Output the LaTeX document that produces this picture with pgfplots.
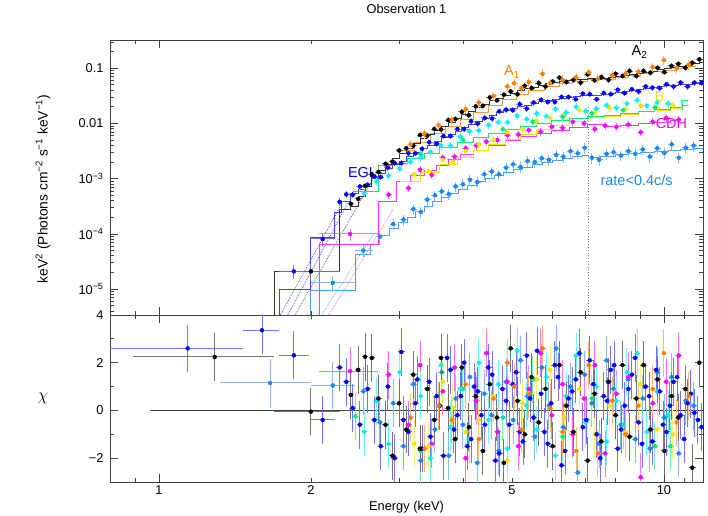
\documentclass[border=0pt]{standalone}
\usepackage{fontspec}
\setmainfont{Liberation Sans}
\usepackage{pgfplots}
\pgfplotsset{compat=1.18}

\definecolor{xorange}{RGB}{255,128,0}
\definecolor{xcyan}{RGB}{0,240,255}
\definecolor{xyellow}{RGB}{240,230,0}
\definecolor{xgreen}{RGB}{0,235,120}
\definecolor{xmag}{RGB}{255,0,255}
\definecolor{xdodger}{RGB}{25,135,245}
\definecolor{xblue}{RGB}{0,0,255}
\newcommand{\ff}{\fontsize{12.8}{15}\selectfont}
\newcommand{\fl}{\fontsize{14.5}{17}\selectfont}

\pgfplotsset{
  xspec/.style={scale only axis, width=593pt,
    tick align=inside, xtick pos=both, ytick pos=both,
    xticklabel pos=lower, yticklabel pos=left,
    major tick length=8pt, minor tick length=4pt,
    axis line style={line width=0.9pt, black!75},
    every tick/.append style={black!75, line width=0.8pt},
    every tick label/.append style={font=\ff}, title style={font=\ff},
    xtick={1,10}, minor xtick={0.8,0.9,3,4,6,7,8,9,11},
    extra x ticks={2,5}, extra x tick style={major tick length=4pt},
    yticklabel style={xshift=-3pt}},
  dat/.style={only marks, mark=*, mark size=2pt, color=#1,
    mark options={draw=#1, fill=#1},
    error bars/x dir=both, error bars/y dir=both, error bars/error mark=none,
    error bars/error bar style={draw=#1!55, line width=1pt}},
  topd/.style={dat=#1, error bars/y fixed relative=0.16, error bars/x fixed relative=0.016},
  resd/.style={dat=#1, error bars/y fixed=1, error bars/x fixed relative=0.015},
  datx/.style={dat=#1, error bars/x explicit, error bars/y explicit},
  modl/.style={const plot mark left, no marks, color=#1, line width=1pt},
  comp/.style={densely dotted, no marks, color=#1, line width=0.8pt},
}

\begin{document}
\begin{tikzpicture}
\useasboundingbox (0pt,0pt) rectangle (708pt,515pt);

% ---------------- spectrum ----------------
\begin{axis}[xspec, xmode=log, xmin=0.8, xmax=11.95,
  at={(110pt,200pt)}, anchor=south west, height=275pt,
  ymode=log, ymin=3.4e-6, ymax=0.325,
  xticklabels={}, extra x tick labels={},
  ytick={1e-5,1e-4,1e-3,1e-2,1e-1},
  yticklabels={10\textsuperscript{−5},10\textsuperscript{−4},10\textsuperscript{−3},0.01,0.1},
  minor ytick={4e-6,5e-6,6e-6,7e-6,8e-6,9e-6,2e-5,3e-5,4e-5,5e-5,6e-5,7e-5,8e-5,9e-5,
    2e-4,3e-4,4e-4,5e-4,6e-4,7e-4,8e-4,9e-4,2e-3,3e-3,4e-3,5e-3,6e-3,7e-3,8e-3,9e-3,
    0.02,0.03,0.04,0.05,0.06,0.07,0.08,0.09,0.2,0.3},
  title={Observation 1}, title style={at={(0.5,1)}, anchor=center, yshift=25pt},
  ylabel={keV\textsuperscript{2} (Photons cm\textsuperscript{−2} s\textsuperscript{−1} keV\textsuperscript{−1})},
  every axis y label/.style={at={(rel axis cs:-0.113,0.458)}, rotate=90, anchor=center,
    font=\fontsize{13.8}{16}\selectfont},
]
% model components
\addplot[comp=xblue!70] coordinates {(1.74,3.4e-6) (2.30,3.5e-4)};
\addplot[comp=xblue!70] coordinates {(1.80,3.4e-6) (2.36,3.5e-4)};
\addplot[comp=black!60] coordinates {(1.86,3.4e-6) (2.70,1.3e-3)};
\addplot[comp=xdodger!60] coordinates {(2.10,3.4e-6) (2.66,1.0e-4)};
\addplot[comp=xmag!60] coordinates {(2.17,3.4e-6) (2.91,2.8e-4)};
\addplot[dotted, gray, line width=0.8pt] coordinates {(7.1,3.4e-6) (7.1,2.0e-2)};

% models
\addplot[modl=xdodger!80] coordinates {(2.0,3e-6)(2.0,9.5e-6)(2.45,4.2e-5)(2.62,6.5e-5)(2.74,9.5e-5)(2.86,1.25e-4)(2.98,1.6e-4)(3.10,2.0e-4)(3.22,2.5e-4)(3.35,3.1e-4)(3.48,3.8e-4)(3.62,4.6e-4)(3.77,5.5e-4)(3.92,6.5e-4)(4.08,7.6e-4)(4.25,8.8e-4)(4.43,1.0e-3)(4.62,1.15e-3)(4.82,1.3e-3)(5.03,1.45e-3)(5.25,1.6e-3)(5.5,1.78e-3)(5.75,1.95e-3)(6.02,2.12e-3)(6.3,2.3e-3)(6.6,2.48e-3)(6.9,2.62e-3)(7.1,2.45e-3)(7.5,2.55e-3)(8.0,2.7e-3)(8.5,2.85e-3)(9.0,3.0e-3)(9.6,3.15e-3)(10.2,3.3e-3)(10.8,3.45e-3)(11.5,3.55e-3)(11.95,3.55e-3)};
\addplot[modl=xmag!80] coordinates {(2.08,3e-6)(2.08,6.5e-5)(2.72,3.9e-4)(2.95,8.9e-4)(3.15,1.15e-3)(3.35,1.4e-3)(3.55,1.75e-3)(3.75,2.2e-3)(3.95,2.7e-3)(4.2,3.3e-3)(4.5,4.0e-3)(4.85,4.9e-3)(5.2,5.7e-3)(5.6,6.6e-3)(6.0,7.5e-3)(6.5,8.5e-3)(7.06,9.5e-3)(7.6,8.7e-3)(8.2,9.3e-3)(8.9,9.9e-3)(9.6,1.06e-2)(10.3,1.12e-2)(10.8,1.12e-2)};
\addplot[modl=xyellow] coordinates {(3.0,9.0e-4)(3.3,1.3e-3)(3.6,1.8e-3)(3.9,2.4e-3)(4.2,3.2e-3)(4.5,4.1e-3)(4.85,5.2e-3)(5.2,6.4e-3)(5.6,7.8e-3)(6.0,9.3e-3)(6.5,1.1e-2)(7.06,1.28e-2)(7.6,1.35e-2)(8.2,1.48e-2)(8.9,1.62e-2)(9.6,1.75e-2)(10.3,1.88e-2)(10.8,1.88e-2)};
\addplot[modl=xgreen] coordinates {(2.42,5.9e-4)(2.72,1.7e-3)(2.90,1.9e-3)(3.10,2.3e-3)(3.35,2.9e-3)(3.60,3.6e-3)(3.90,4.5e-3)(4.20,5.5e-3)(4.50,6.6e-3)(4.85,7.8e-3)(5.2,9.0e-3)(5.6,1.02e-2)(6.0,1.12e-2)(6.5,1.23e-2)(7.06,1.32e-2)(7.6,1.38e-2)(8.2,1.5e-2)(8.9,1.63e-2)(9.6,1.78e-2)(10.3,1.98e-2)(10.8,1.98e-2)};
\addplot[modl=xorange!80] coordinates {(3.00,3.2e-3)(3.20,4.6e-3)(3.45,6.5e-3)(3.70,9.0e-3)(3.95,1.2e-2)(4.20,1.6e-2)(4.50,2.1e-2)(4.80,2.7e-2)(5.10,3.3e-2)(5.40,3.9e-2)(5.80,4.6e-2)(6.20,5.2e-2)(6.60,5.7e-2)(7.06,6.2e-2)(7.50,6.3e-2)(8.00,6.9e-2)(8.50,7.5e-2)(9.00,8.1e-2)(9.50,8.7e-2)(10.0,9.3e-2)(10.6,0.10)(11.2,0.107)(11.6,0.107)};
\addplot[modl=xblue!75] coordinates {(1.73,3e-6)(1.73,1.0e-5)(2.0,8.5e-5)(2.23,2.4e-4)(2.30,3.8e-4)(2.40,5.5e-4)(2.48,6.46e-4)(2.56,7.94e-4)(2.64,1.0e-3)(2.72,1.23e-3)(2.81,1.51e-3)(2.90,1.78e-3)(2.99,2.09e-3)(3.09,2.51e-3)(3.19,3.02e-3)(3.29,3.47e-3)(3.40,4.07e-3)(3.51,4.79e-3)(3.62,5.50e-3)(3.74,6.31e-3)(3.86,7.24e-3)(3.98,8.32e-3)(4.11,9.55e-3)(4.24,1.10e-2)(4.38,1.23e-2)(4.52,1.38e-2)(4.67,1.55e-2)(4.82,1.70e-2)(4.97,1.86e-2)(5.13,2.00e-2)(5.30,2.14e-2)(5.47,2.29e-2)(5.65,2.45e-2)(5.83,2.57e-2)(6.02,2.69e-2)(6.21,2.82e-2)(6.41,2.95e-2)(6.62,3.09e-2)(6.84,3.16e-2)(7.06,3.24e-2)(7.29,3.16e-2)(7.52,3.31e-2)(7.77,3.47e-2)(8.02,3.63e-2)(8.28,3.80e-2)(8.55,3.98e-2)(8.82,4.17e-2)(9.11,4.27e-2)(9.40,4.47e-2)(9.71,4.68e-2)(10.02,4.79e-2)(10.35,4.90e-2)(10.68,5.01e-2)(11.03,5.13e-2)(11.38,5.25e-2)(11.75,5.37e-2)(11.95,5.37e-2)};
\addplot[modl=black!80] coordinates {(1.69,3e-6)(1.69,2.1e-5)(2.28,2.75e-4)(2.40,3.16e-4)(2.48,4.79e-4)(2.56,7.08e-4)(2.64,1.05e-3)(2.72,1.41e-3)(2.81,1.82e-3)(2.90,2.34e-3)(2.99,2.88e-3)(3.09,3.55e-3)(3.19,4.37e-3)(3.29,5.25e-3)(3.40,6.31e-3)(3.51,7.41e-3)(3.62,8.91e-3)(3.74,1.05e-2)(3.86,1.23e-2)(3.98,1.45e-2)(4.11,1.66e-2)(4.24,1.95e-2)(4.38,2.24e-2)(4.52,2.57e-2)(4.67,2.88e-2)(4.82,3.24e-2)(4.97,3.55e-2)(5.13,3.89e-2)(5.30,4.27e-2)(5.47,4.57e-2)(5.65,4.90e-2)(5.83,5.25e-2)(6.02,5.50e-2)(6.21,5.75e-2)(6.41,6.03e-2)(6.62,6.17e-2)(6.84,6.31e-2)(7.06,6.46e-2)(7.29,6.31e-2)(7.52,6.46e-2)(7.77,6.76e-2)(8.02,7.08e-2)(8.28,7.41e-2)(8.55,7.76e-2)(8.82,8.13e-2)(9.11,8.51e-2)(9.40,8.91e-2)(9.71,9.33e-2)(10.02,9.77e-2)(10.35,0.102)(10.68,0.107)(11.03,0.112)(11.38,0.120)(11.75,0.126)(11.95,0.126)};

% data
\addplot[datx=xdodger] coordinates {(2.21,1.3e-5) += (0.24,0.4e-5) -= (0.21,0.4e-5) (2.54,5.0e-5) += (0.12,1.2e-5) -= (0.09,1.2e-5)};
\addplot[topd=xdodger, error bars/y fixed relative=0.22] coordinates {(2.74,8.91e-5)(2.91,1.51e-4)(3.05,1.82e-4)(3.19,2.82e-4)(3.30,2.51e-4)(3.40,4.17e-4)(3.52,5.01e-4)(3.63,5.89e-4)(3.75,5.25e-4)(3.87,7.24e-4)(4.00,7.94e-4)(4.13,9.55e-4)(4.27,8.71e-4)(4.41,1.20e-3)(4.56,1.35e-3)(4.71,1.20e-3)(4.87,1.58e-3)(5.03,1.82e-3)(5.20,1.62e-3)(5.37,2.09e-3)(5.55,2.00e-3)(5.73,2.34e-3)(5.92,2.19e-3)(6.12,2.69e-3)(6.32,2.51e-3)(6.53,3.16e-3)(6.75,2.88e-3)(6.97,3.63e-3)(7.20,2.40e-3)(7.44,2.19e-3)(7.70,2.82e-3)(7.95,3.02e-3)(8.22,2.63e-3)(8.50,3.16e-3)(8.78,2.82e-3)(9.08,3.39e-3)(9.38,2.51e-3)(9.70,3.55e-3)(10.02,2.95e-3)(10.36,4.17e-3)(10.70,2.40e-3)(11.05,3.63e-3)(11.45,3.98e-3)};
\addplot[datx=xmag] coordinates {(2.39,1.0e-4) += (0.33,0.25e-4) -= (0.32,0.25e-4)};
\addplot[topd=xmag] coordinates {(2.85,5.13e-4)(3.12,6.76e-4)(3.29,1.45e-3)(3.47,1.17e-3)(3.65,2.40e-3)(3.85,2.51e-3)(4.05,3.55e-3)(4.25,3.98e-3)(4.45,4.68e-3)(4.68,5.01e-3)(4.90,6.17e-3)(5.15,6.31e-3)(5.40,7.59e-3)(5.70,7.08e-3)(6.00,8.71e-3)(6.30,8.32e-3)(6.60,1.07e-2)(6.95,1.00e-2)(7.30,7.94e-3)(7.65,9.12e-3)(8.05,8.71e-3)(8.50,9.55e-3)(9.00,6.92e-3)(9.50,1.07e-2)(10.1,1.26e-2)(10.7,1.17e-2)};
\addplot[topd=xyellow] coordinates {(3.20,1.20e-3)(3.42,1.38e-3)(3.65,2.19e-3)(3.82,2.00e-3)(4.05,3.16e-3)(4.30,4.17e-3)(4.60,5.01e-3)(4.90,6.92e-3)(5.25,7.94e-3)(5.60,1.10e-2)(5.95,1.26e-2)(6.35,1.45e-2)(6.80,1.74e-2)(7.30,1.58e-2)(7.80,1.91e-2)(8.40,1.82e-2)(9.00,2.09e-2)(9.70,1.95e-2)(10.4,2.14e-2)};
\addplot[topd=xgreen] coordinates {(3.3,2.8e-3)(4.0,5.0e-3)(4.8,7.9e-3)(5.5,1.07e-2)(6.3,1.32e-2)(7.2,1.51e-2)(8.3,1.74e-2)(9.6,1.95e-2)};
\addplot[topd=xcyan] coordinates {(2.55,5.50e-4)(2.70,8.91e-4)(2.85,1.12e-3)(3.00,1.51e-3)(3.15,2.00e-3)(3.30,2.40e-3)(3.45,3.02e-3)(3.62,3.98e-3)(3.78,3.98e-3)(3.95,5.75e-3)(4.12,7.24e-3)(4.30,7.41e-3)(4.50,9.33e-3)(4.70,1.05e-2)(4.90,1.05e-2)(5.12,1.38e-2)(5.35,1.20e-2)(5.60,1.51e-2)(5.85,1.35e-2)(6.10,1.82e-2)(6.40,1.58e-2)(6.70,2.00e-2)(7.00,1.66e-2)(7.35,1.86e-2)(7.70,2.14e-2)(8.05,1.91e-2)(8.45,2.29e-2)(8.85,2.63e-2)(9.25,2.09e-2)(9.70,2.40e-2)(10.2,2.29e-2)};
\addplot[datx=xblue] coordinates {(1.85,2.1e-5) += (0.15,0.6e-5) -= (0.12,0.6e-5) (2.11,8.1e-5) += (0.12,2e-5) -= (0.11,2e-5) (2.28,3.8e-4) += (0.03,0.6e-4) -= (0.03,0.6e-4) (2.35,5.2e-4) += (0.03,0.8e-4) -= (0.03,0.8e-4)};
\addplot[topd=xblue, error bars/y fixed relative=0.12] coordinates {(2.42,5.13e-4)(2.50,7.24e-4)(2.59,7.76e-4)(2.67,1.10e-3)(2.75,1.07e-3)(2.84,1.58e-3)(2.93,1.91e-3)(3.02,1.91e-3)(3.12,2.88e-3)(3.22,2.88e-3)(3.32,3.47e-3)(3.43,4.57e-3)(3.55,4.27e-3)(3.66,5.89e-3)(3.78,5.89e-3)(3.90,7.94e-3)(4.02,7.94e-3)(4.15,1.10e-2)(4.28,1.00e-2)(4.42,1.26e-2)(4.57,1.23e-2)(4.72,1.66e-2)(4.87,1.78e-2)(5.02,1.74e-2)(5.18,2.24e-2)(5.35,1.86e-2)(5.52,2.40e-2)(5.71,2.69e-2)(5.89,2.45e-2)(6.08,2.45e-2)(6.27,3.02e-2)(6.47,3.02e-2)(6.69,2.75e-2)(6.91,3.47e-2)(7.13,3.39e-2)(7.36,2.75e-2)(7.60,3.55e-2)(7.85,3.39e-2)(8.10,4.07e-2)(8.36,3.55e-2)(8.64,4.17e-2)(8.91,3.80e-2)(9.20,4.68e-2)(9.49,4.47e-2)(9.81,4.37e-2)(10.12,5.13e-2)(10.45,4.68e-2)(10.79,5.50e-2)(11.14,4.68e-2)(11.49,5.50e-2)(11.87,5.50e-2)};
\addplot[datx=black] coordinates {(2.0,2.1e-5) += (0.28,0.7e-5) -= (0.27,0.7e-5)};
\addplot[topd=black, error bars/y fixed relative=0.12] coordinates {(2.40,3.5e-4)(2.48,4.3e-4)(2.56,7.4e-4)(2.64,1.20e-3)(2.72,1.32e-3)(2.81,1.86e-3)(2.90,2.04e-3)(2.99,3.24e-3)(3.09,3.55e-3)(3.19,3.98e-3)(3.29,6.17e-3)(3.40,6.03e-3)(3.51,7.94e-3)(3.62,7.8e-3)(3.74,1.15e-2)(3.86,1.20e-2)(3.98,1.62e-2)(4.11,1.41e-2)(4.24,2.04e-2)(4.38,2.09e-2)(4.52,2.95e-2)(4.67,2.63e-2)(4.82,3.31e-2)(4.97,3.80e-2)(5.13,3.39e-2)(5.30,4.79e-2)(5.47,4.37e-2)(5.65,5.37e-2)(5.83,4.68e-2)(6.02,5.75e-2)(6.21,6.76e-2)(6.41,5.62e-2)(6.62,6.17e-2)(6.84,5.50e-2)(7.06,7.76e-2)(7.29,6.03e-2)(7.52,6.92e-2)(7.77,6.17e-2)(8.02,7.94e-2)(8.28,7.24e-2)(8.55,8.91e-2)(8.82,7.24e-2)(9.11,8.91e-2)(9.40,8.32e-2)(9.71,0.102)(10.02,8.51e-2)(10.35,0.110)(10.68,0.120)(11.03,0.102)(11.38,0.126)(11.75,0.145)};
\addplot[topd=xorange, error bars/y fixed relative=0.2] coordinates {(3.15,4.17e-3)(3.36,6.61e-3)(3.58,9.33e-3)(3.80,1.17e-2)(4.05,1.82e-2)(4.30,2.40e-2)(4.60,3.16e-2)(4.90,4.68e-2)(5.05,5.37e-2)(5.22,4.37e-2)(5.40,5.62e-2)(5.75,7.94e-2)(5.95,5.37e-2)(6.30,6.17e-2)(6.70,6.92e-2)(7.10,8.51e-2)(7.40,6.46e-2)(7.90,7.41e-2)(8.40,7.94e-2)(8.90,8.71e-2)(9.50,0.105)(10.0,0.141)(10.6,0.100)(11.2,0.117)};

% labels
\node[font=\fl, black] at (axis cs:8.95,0.197) {A\textsubscript{2}};
\node[font=\fl, xorange] at (axis cs:5.0,0.0858) {A\textsubscript{1}};
\node[font=\fl, xyellow] at (axis cs:9.8,0.0303) {B};
\node[font=\fl, xgreen] at (axis cs:11.0,0.0208) {F};
\node[font=\fl, xmag] at (axis cs:10.35,0.0102) {CDH};
\node[font=\fl, xblue] at (axis cs:2.53,1.28e-3) {EGL};
\node[font=\fl, xdodger] at (axis cs:8.83,9.5e-4) {rate<0.4c/s};
\end{axis}

% ---------------- residuals ----------------
\begin{axis}[xspec, xmode=log, xmin=0.8, xmax=11.95,
  at={(110pt,33pt)}, anchor=south west, height=167pt,
  ymin=-3, ymax=4, ytick={-2,0,2,4}, yticklabels={−2,0,2,4},
  minor ytick={-3,-1,1,3},
  xticklabels={1,10}, extra x tick labels={2,5},
  xlabel={Energy (keV)},
  every axis x label/.style={at={(rel axis cs:0.5,0)}, anchor=center, yshift=-25pt, font=\ff},
  ylabel={$\chi$},
  every axis y label/.style={at={(rel axis cs:-0.113,0.5)}, anchor=center,
    font=\fontsize{17}{19}\selectfont},
]
\addplot[black!75, line width=1pt] coordinates {(0.96,0) (11.95,0)};
\addplot[datx=xdodger] coordinates {(1.66,1.15) += (0.34,1) -= (0.34,1) (2.21,1.05) += (0.24,1) -= (0.21,1)};
\addplot[resd=xdodger] coordinates {(2.54,0.8)(2.74,-0.5)(2.91,0.3)(3.05,-1.5)(3.19,1.1)(3.30,-2.1)(3.40,0.9)(3.52,-0.8)(3.63,1.6)(3.75,-1.9)(3.87,0.5)(4.00,-0.6)(4.13,1.4)(4.27,-2.2)(4.41,0.7)(4.56,-0.2)(4.71,-1.7)(4.87,1.2)(5.03,-0.4)(5.20,2.1)(5.37,0.6)(5.55,-1.1)(5.73,1.8)(5.92,0.2)(6.12,2.6)(6.32,-0.7)(6.53,1.0)(6.75,-2.6)(6.97,1.5)(7.20,0.3)(7.44,-1.4)(7.70,2.1)(7.95,0.9)(8.22,-0.6)(8.50,1.3)(8.78,-1.2)(9.08,0.5)(9.38,-1.6)(9.70,1.6)(10.02,-0.3)(10.36,1.4)(10.70,-1.8)(11.05,0.4)(11.45,0.2)};
\addplot[datx=xmag] coordinates {(2.39,1.65) += (0.33,1) -= (0.32,1)};
\addplot[resd=xmag] coordinates {(2.85,1.5)(3.12,-0.6)(3.29,1.9)(3.47,-1.4)(3.65,0.8)(3.85,1.8)(4.05,-2.0)(4.25,0.4)(4.45,2.4)(4.68,-0.9)(4.90,1.2)(5.15,-1.5)(5.40,0.9)(5.70,2.4)(6.00,-0.2)(6.30,1.1)(6.60,-1.0)(6.95,0.5)(7.30,1.9)(7.65,-1.8)(8.05,0.7)(8.50,1.4)(9.00,-2.8)(9.50,0.3)(10.1,1.2)(10.7,2.3)};
\addplot[resd=xyellow] coordinates {(3.20,-1.4)(3.42,-1.5)(3.65,1.2)(3.82,0.1)(4.05,-0.9)(4.30,-0.4)(4.60,0.6)(4.90,-2.1)(5.25,0.3)(5.60,1.3)(5.95,1.7)(6.35,-0.3)(6.80,0.9)(7.30,-1.0)(7.80,0.2)(8.40,-0.9)(9.00,1.1)(9.70,-0.8)(10.4,-1.0)};
\addplot[resd=xgreen] coordinates {(2.45,-0.25)(3.3,-1.7)(4.0,0.9)(4.8,-0.3)(5.5,1.3)(6.3,-1.1)(7.2,0.5)(8.3,-0.6)(9.6,-1.5)(10.3,-1.5)};
\addplot[resd=xcyan] coordinates {(2.55,-0.9)(2.70,0.4)(2.85,-1.4)(3.00,1.6)(3.15,-0.3)(3.30,0.6)(3.45,-2.0)(3.62,1.9)(3.78,-0.7)(3.95,0.9)(4.12,-1.2)(4.30,2.0)(4.50,-0.4)(4.70,1.1)(4.90,-1.6)(5.12,2.5)(5.35,0.2)(5.60,-0.8)(5.85,1.4)(6.10,-1.9)(6.40,0.6)(6.70,2.3)(7.00,-0.5)(7.35,1.0)(7.70,-1.3)(8.05,0.4)(8.45,1.6)(8.85,2.4)(9.25,-0.9)(9.70,0.8)(10.2,-0.2)};
\addplot[datx=xblue] coordinates {(1.14,2.6) += (0.33,1) -= (0.34,1) (1.6,3.36) += (0.13,1) -= (0.13,1) (1.85,2.31) += (0.13,1) -= (0.12,1) (2.11,-0.4) += (0.12,1) -= (0.11,1)};
\addplot[resd=xblue] coordinates {(2.28,1.8)(2.35,1.2)(2.42,0.1)(2.50,-0.6)(2.59,0.9)(2.67,-0.4)(2.75,-1.5)(2.84,1.0)(2.93,-2.0)(3.02,2.45)(3.12,-0.9)(3.22,0.3)(3.32,-1.6)(3.43,1.2)(3.55,0.6)(3.66,-1.9)(3.78,1.7)(3.90,-0.2)(4.02,2.0)(4.15,-1.2)(4.28,0.8)(4.42,-0.6)(4.57,1.5)(4.72,-1.8)(4.87,0.4)(5.02,1.1)(5.18,-0.9)(5.35,2.3)(5.52,-0.3)(5.71,0.7)(5.89,-1.4)(6.08,1.9)(6.27,-2.3)(6.47,0.5)(6.69,1.3)(6.91,-0.7)(7.13,2.1)(7.36,-1.0)(7.60,0.6)(7.85,1.7)(8.10,-1.6)(8.36,0.2)(8.64,1.5)(8.91,-0.5)(9.20,1.0)(9.49,-1.3)(9.81,0.8)(10.12,-0.9)(10.45,1.2)(10.79,-0.2)(11.14,0.3)(11.49,-0.1)(11.87,-0.7)};
\addplot[resd=xblue] coordinates {(3.05,-0.4)(3.25,1.3)(3.45,-1.1)(3.60,0.2)(3.72,2.2)(3.84,-0.8)(3.96,0.6)(4.08,-1.5)(4.21,1.0)(4.35,-0.2)(4.49,1.8)(4.64,-2.1)(4.79,0.9)(4.94,-0.6)(5.10,1.6)(5.26,-1.3)(5.43,0.5)(5.61,2.5)(5.80,-0.9)(5.98,0.3)(6.17,1.4)(6.37,-1.7)(6.58,0.8)(6.80,2.4)(7.02,-0.4)(7.25,1.1)(7.48,-2.0)(7.72,0.4)(7.97,1.9)(8.23,-0.8)(8.50,0.9)(8.77,2.2)(9.05,-1.4)(9.35,0.6)(9.65,1.7)(9.96,-0.6)(10.28,0.2)(10.62,1.4)(10.96,-1.2)(11.31,0.7)(11.68,-0.4)};
\addplot[datx=black] coordinates {(1.29,2.24) += (0.40,1) -= (0.40,1) (2.0,-0.05) += (0.28,1) -= (0.31,1)};
\addplot[resd=black] coordinates {(2.40,0.65)(2.48,1.7)(2.56,2.25)(2.64,2.2)(2.72,0.5)(2.81,-0.6)(2.90,-1.9)(2.99,0.3)(3.09,-0.8)(3.19,1.5)(3.29,-1.6)(3.40,0.9)(3.51,-0.4)(3.62,2.2)(3.74,0.1)(3.86,-1.2)(3.98,1.8)(4.11,-0.7)(4.24,0.6)(4.38,-1.7)(4.52,1.1)(4.67,-0.3)(4.82,-2.2)(4.97,2.6)(5.13,0.4)(5.30,-1.0)(5.47,1.4)(5.65,-0.5)(5.83,0.9)(6.02,-1.5)(6.21,1.9)(6.41,0.2)(6.62,-0.9)(6.84,1.6)(7.06,-2.1)(7.29,0.7)(7.52,-1.3)(7.77,1.2)(8.02,-0.2)(8.28,1.9)(8.55,-1.1)(8.82,0.5)(9.11,1.9)(9.40,-0.8)(9.71,1.3)(10.02,-1.7)(10.35,0.6)(10.68,-0.3)(11.03,0.9)(11.38,-2.4)(11.75,2.0)};
\addplot[resd=xorange] coordinates {(3.15,-0.3)(3.36,-1.6)(3.58,0.2)(3.80,-0.4)(4.05,1.1)(4.30,-1.2)(4.60,0.5)(4.90,2.0)(5.05,1.0)(5.22,-0.8)(5.40,0.7)(5.75,2.6)(5.95,0.1)(6.30,-0.9)(6.70,-1.7)(7.10,1.9)(7.40,-1.8)(7.90,0.4)(8.40,-1.0)(8.90,0.2)(9.50,0.9)(10.0,2.4)(10.6,-0.5)(11.2,0.6)};
\end{axis}
\end{tikzpicture}
\end{document}
